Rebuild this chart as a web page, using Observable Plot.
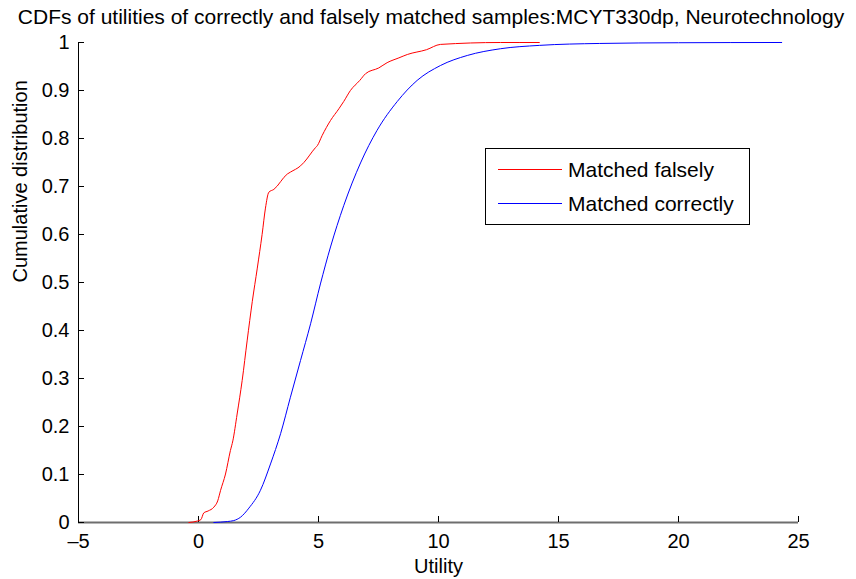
<!DOCTYPE html>
<html>
<head>
<meta charset="utf-8">
<script src="https://cdn.jsdelivr.net/npm/d3@7"></script>
<script src="https://cdn.jsdelivr.net/npm/@observablehq/plot@0.6"></script>
<style>
  body { margin: 0; background: #fff; }
  #wrap { position: relative; width: 856px; height: 579px; font-family: "Liberation Sans", Arial, Helvetica, sans-serif; }
  #title { position: absolute; left: 0; top: 5px; width: 862px; text-align: center; font-size: 21px; line-height: 24px; color: #000; white-space: nowrap; }
  #chart { position: absolute; left: 0; top: 0; }
  #legend { position: absolute; left: 485px; top: 148px; }
</style>
</head>
<body>
<div id="wrap">
  <div id="chart"></div>
  <div id="title">CDFs of utilities of correctly and falsely matched samples:MCYT330dp, Neurotechnology</div>
  <svg id="legend" width="266" height="78" font-family="'Liberation Sans', Arial, Helvetica, sans-serif" font-size="21">
    <rect x="0.5" y="0.5" width="264" height="76" fill="#fff" stroke="#000" stroke-width="1"/>
    <line x1="13" y1="21.5" x2="77" y2="21.5" stroke="#ff0000" stroke-width="1"/>
    <text x="83" y="21.5" dominant-baseline="central" fill="#000">Matched falsely</text>
    <line x1="13" y1="55.5" x2="77" y2="55.5" stroke="#0000ff" stroke-width="1"/>
    <text x="83" y="55.5" dominant-baseline="central" fill="#000">Matched correctly</text>
  </svg>
</div>
<script>
// Matched falsely CDF (utility, cumulative probability)
const falselyU = [-0.4, -0.05, 0.1, 0.22, 0.4, 0.64, 0.8, 0.92, 1.125, 1.33, 1.43, 1.61, 1.82, 2.03, 2.24, 2.45, 2.65, 2.79, 2.93, 3.14, 3.7, 3.83, 4.25, 4.39, 4.875, 4.95, 5.15, 5.5, 5.85, 6.05, 6.33, 6.72, 6.96, 7.51, 7.86, 8.35, 8.7, 9.5, 10.08, 12.58, 14.2];
const falselyP = [0, 0.003, 0.006, 0.02, 0.024, 0.032, 0.045, 0.067, 0.101, 0.15, 0.17, 0.226, 0.296, 0.38, 0.46, 0.53, 0.60, 0.655, 0.688, 0.694, 0.726, 0.73, 0.743, 0.75, 0.781, 0.785, 0.806, 0.8375, 0.862, 0.877, 0.9, 0.921, 0.935, 0.947, 0.958, 0.968, 0.975, 0.985, 0.996, 1.0, 1.0];
// Matched correctly CDF
const correctlyU = [0.64, 1.2, 1.47, 1.75, 2.1, 2.58, 3.0, 3.42, 3.83, 4.25, 4.67, 5.08, 5.5, 6.05, 6.75, 7.44, 8.28, 9.11, 10.08, 11.2, 12.58, 14.2, 16.7, 20.0, 24.3];
const correctlyP = [0, 0.002, 0.004, 0.011, 0.03, 0.067, 0.122, 0.185, 0.261, 0.3375, 0.414, 0.497, 0.574, 0.66, 0.749, 0.817, 0.877, 0.921, 0.952, 0.973, 0.987, 0.994, 0.998, 0.9995, 1.0];
const xTicks = [-5, 0, 5, 10, 15, 20, 25];
const yTicks = [0, 0.1, 0.2, 0.3, 0.4, 0.5, 0.6, 0.7, 0.8, 0.9, 1];
const xLabel = ["Utility"];
const yLabel = ["Cumulative distribution"];

const falsely = falselyU.map((u, i) => ({u, p: falselyP[i]}));
const correctly = correctlyU.map((u, i) => ({u, p: correctlyP[i]}));

const chart = Plot.plot({
  width: 856,
  height: 579,
  marginLeft: 78,
  marginRight: 58,
  marginTop: 42,
  marginBottom: 57,
  style: {fontFamily: "'Liberation Sans', Arial, Helvetica, sans-serif", fontSize: "20px", color: "#000", background: "transparent"},
  x: {domain: [-5, 25]},
  y: {domain: [0, 1]},
  marks: [
    Plot.ruleY([0], {stroke: "#6e6e6e", strokeWidth: 2}),
    Plot.ruleX([-5], {stroke: "#000", strokeWidth: 1}),
    Plot.axisX({ticks: xTicks, tickSize: -6, tickPadding: 17, label: null, stroke: "#000", fontSize: 20,
      tickFormat: d => d < 0 ? "\u2013" + Math.abs(d) : String(d)}),
    Plot.axisY({ticks: yTicks, tickSize: -6, tickPadding: 15, label: null, stroke: "#000", fontSize: 20,
      tickFormat: d => d === 0 ? "0" : d === 1 ? "1" : d.toFixed(1)}),
    Plot.line(correctly, {x: "u", y: "p", stroke: "#0000ff", strokeWidth: 1, curve: "monotone-x"}),
    Plot.line(falsely, {x: "u", y: "p", stroke: "#ff0000", strokeWidth: 1, curve: "monotone-x"}),
    Plot.text(xLabel, {text: d => d, frameAnchor: "bottom", dy: 50, fontSize: 20}),
    Plot.text(yLabel, {text: d => d, frameAnchor: "left", dx: -58, rotate: -90, fontSize: 20})
  ]
});
document.getElementById("chart").appendChild(chart);
</script>
</body>
</html>
